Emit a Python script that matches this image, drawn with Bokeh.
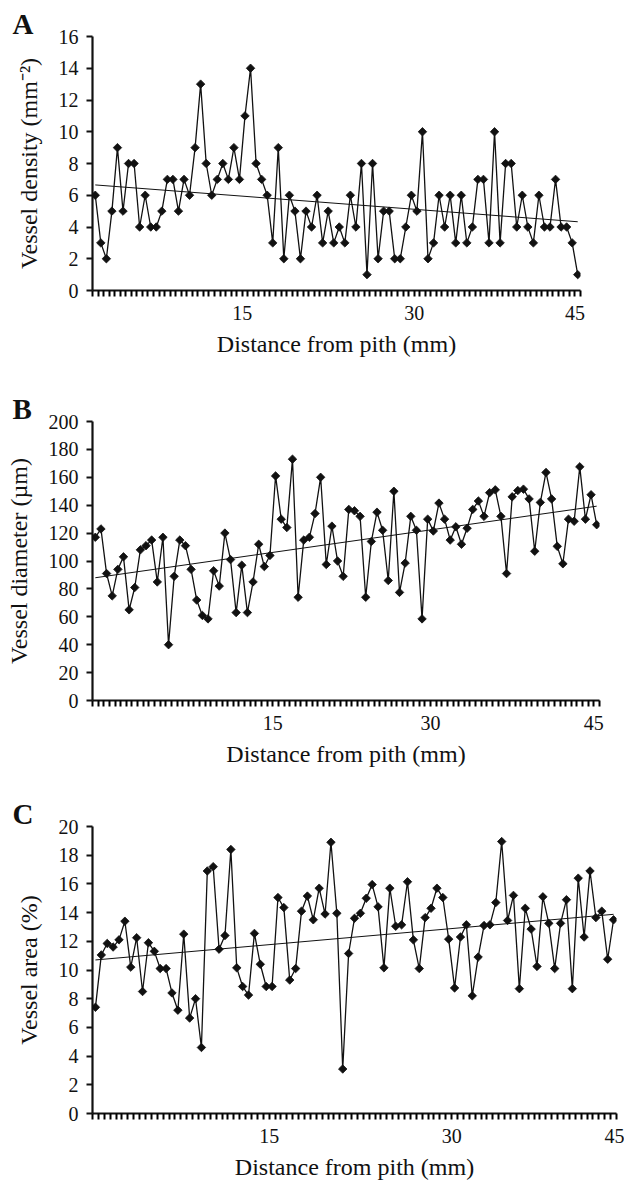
import numpy as np
from bokeh.plotting import figure
from bokeh.layouts import column
from bokeh.models import FixedTicker, Title
from bokeh.embed import file_html
from bokeh.resources import INLINE

# ---------------- data ----------------
density = [6, 3, 2, 5, 9, 5, 8, 8, 4, 6, 4, 4, 5, 7, 7, 5, 7, 6, 9, 13,
           8, 6, 7, 8, 7, 9, 7, 11, 14, 8, 7, 6, 3, 9, 2, 6, 5, 2, 5, 4,
           6, 3, 5, 3, 4, 3, 6, 4, 8, 1, 8, 2, 5, 5, 2, 2, 4, 6, 5, 10,
           2, 3, 6, 4, 6, 3, 6, 3, 4, 7, 7, 3, 10, 3, 8, 8, 4, 6, 4, 3,
           6, 4, 4, 7, 4, 4, 3, 1]
diameter = [117, 123, 91, 75, 94, 103, 65, 81, 108, 111, 115, 85, 117, 40, 89,
            115, 111, 94, 72, 61, 58.5, 93, 82, 120, 101, 63, 97, 63, 85, 112,
            96, 104, 161, 130, 124, 173, 74, 115, 117, 134, 160, 97.5, 125, 100, 89,
            137, 136, 132, 74, 114, 135, 122, 86, 150, 77.5, 98.5, 132, 122, 58.5, 130,
            121.5, 141.5, 130, 115, 124.5, 112, 123.5, 137, 143, 132, 149, 151, 132, 91, 146,
            150.5, 151.5, 144.5, 107, 142, 163.5, 144.5, 110.5, 98, 130, 128.5, 167.5, 130, 147.5, 126]
area = [7.4, 11.05, 11.85, 11.6, 12.1, 13.4, 10.2, 12.25, 8.5, 11.9,
        11.3, 10.1, 10.1, 8.4, 7.2, 12.5, 6.65, 8.0, 4.6, 16.9,
        17.2, 11.45, 12.4, 18.4, 10.15, 8.85, 8.25, 12.55, 10.4, 8.85,
        8.85, 15.05, 14.35, 9.3, 10.1, 14.1, 15.15, 13.5, 15.7, 13.9,
        18.9, 13.95, 3.1, 11.15, 13.6, 13.95, 15.0, 15.95, 14.4, 10.15,
        15.7, 13.05, 13.15, 16.15, 12.1, 10.1, 13.65, 14.3, 15.7, 15.05,
        12.15, 8.75, 12.3, 13.15, 8.2, 10.9, 13.1, 13.15, 14.7, 18.95,
        13.45, 15.2, 8.7, 14.3, 12.85, 10.25, 15.1, 13.25, 10.1, 13.25,
        14.9, 8.7, 16.4, 12.3, 16.9, 13.65, 14.1, 10.75, 13.5]

# trend lines (start, end values)
trend_density = [6.65, 4.33]
trend_diameter = [88.0, 139.3]
trend_area = [10.7, 13.88]

# x tick labels and where they sit along the sample index
x_tick_labels = ["15", "30", "45"]
x_tick_pos_a = [27.3, 58.4, 87.7]
x_tick_pos_b = [32.0, 60.8, 89.6]
x_tick_pos_c = [30.7, 61.0, 89.5]

y_ticks_a = list(range(0, 17, 2))
y_ticks_b = list(range(0, 201, 20))
y_ticks_c = list(range(0, 21, 2))

FONT = "Liberation Serif"
INK = "#111111"


def panel(values, trend, tick_pos, yticks, ylabel, letter,
          frame_w, frame_h, border_bottom):
    n = len(values)
    x = list(range(1, n + 1))
    p = figure(frame_width=frame_w, frame_height=frame_h,
               x_range=(0.5, n + 0.5), y_range=(yticks[0], yticks[-1]),
               min_border_left=92, min_border_top=36,
               min_border_bottom=border_bottom, min_border_right=8,
               output_backend="svg", toolbar_location=None,
               background_fill_color="white", border_fill_color="white")
    p.outline_line_color = None
    p.grid.visible = False

    p.title = Title(text=letter, align="left", offset=-80, standoff=-6,
                    text_font=FONT, text_font_size="29px",
                    text_font_style="bold", text_color=INK,
                    vertical_align="bottom")

    p.line([1, n], trend, line_color=INK, line_width=1)
    p.line(x, values, line_color=INK, line_width=1.3)
    p.scatter(x, values, marker="square", angle=np.pi / 4, size=6,
              fill_color=INK, line_color=INK, line_width=0.8)

    # x axis: a small tick between every pair of samples, labels on three of them
    boundaries = [float(b) for b in np.arange(0.5, n + 1, 1.0)]
    label_at = {float(np.floor(t) + 0.5): s for t, s in zip(tick_pos, x_tick_labels)}
    xa = p.xaxis[0]
    xa.ticker = FixedTicker(ticks=boundaries, minor_ticks=[])
    xa.major_label_overrides = {b: label_at.get(b, "") for b in boundaries}
    xa.major_tick_out = 6
    xa.major_tick_in = 0
    xa.major_tick_line_width = 2
    xa.major_tick_line_color = "black"
    xa.axis_line_width = 2.2
    xa.axis_line_color = INK
    xa.major_label_text_font = FONT
    xa.major_label_text_font_size = "20px"
    xa.major_label_text_color = INK
    xa.major_label_standoff = 9
    xa.axis_label = "Distance from pith (mm)"
    xa.axis_label_text_font = FONT
    xa.axis_label_text_font_size = "24px"
    xa.axis_label_text_font_style = "normal"
    xa.axis_label_text_color = INK
    xa.axis_label_standoff = 8

    # y axis
    ya = p.yaxis[0]
    ya.ticker = FixedTicker(ticks=yticks, minor_ticks=[])
    ya.major_tick_out = 6
    ya.major_tick_in = 0
    ya.major_tick_line_width = 2
    ya.major_tick_line_color = INK
    ya.axis_line_width = 2.2
    ya.axis_line_color = INK
    ya.major_label_text_font = FONT
    ya.major_label_text_font_size = "20px"
    ya.major_label_text_color = INK
    ya.major_label_standoff = 8
    ya.axis_label = ylabel
    ya.axis_label_text_font = FONT
    ya.axis_label_text_font_size = "24px"
    ya.axis_label_text_font_style = "normal"
    ya.axis_label_text_color = INK
    ya.axis_label_standoff = 14
    return p


pa = panel(density, trend_density, x_tick_pos_a, y_ticks_a,
           "Vessel density (mm\u207b\u00b2)", "A", 488, 254, 95)
pb = panel(diameter, trend_diameter, x_tick_pos_b, y_ticks_b,
           "Vessel diameter (\u00b5m)", "B", 507, 279, 90)
pc = panel(area, trend_area, x_tick_pos_c, y_ticks_c,
           "Vessel area (%)", "C", 524, 287, 67)

layout = column(pa, pb, pc, spacing=0)
open("out.html", "w").write(file_html(layout, INLINE))
